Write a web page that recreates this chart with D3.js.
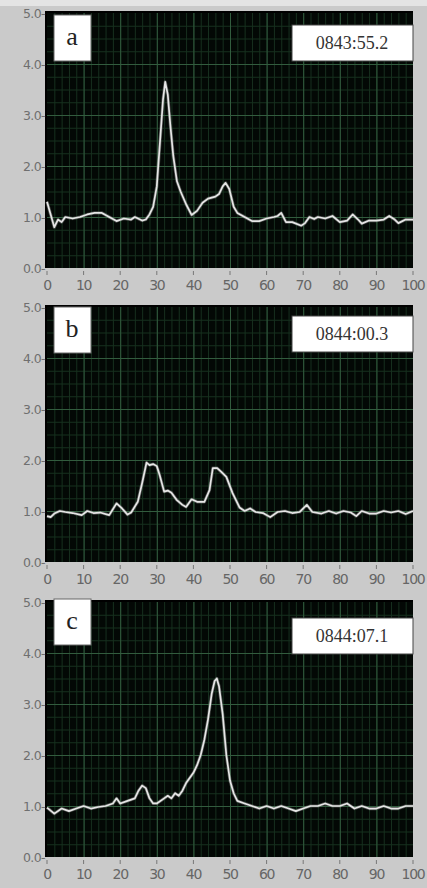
<!DOCTYPE html>
<html>
<head>
<meta charset="utf-8">
<script src="https://cdn.jsdelivr.net/npm/d3@7"></script>
<style>
  html, body { margin: 0; padding: 0; background: #cacaca; }
  svg { display: block; }
</style>
</head>
<body>
<svg id="chart" width="427" height="888"></svg>
<script>
const svg = d3.select("#chart");
const W = 427, H = 888;

// Panel labels and timestamps
const panelLetters = ["a", "b", "c"];
const timestamps = ["0843:55.2", "0844:00.3", "0844:07.1"];

// Axis ticks
const xTicks = [0, 10, 20, 30, 40, 50, 60, 70, 80, 90, 100];
const yTicks = [0, 1, 2, 3, 4, 5];

// Traces [x, value]
const traceA = [[0,1.3],[1,1.05],[2,0.8],[3,0.95],[4,0.9],[5,1.0],[7,0.97],[9,1.0],[11,1.05],[13,1.08],
  [15,1.08],[17,1.0],[19,0.92],[21,0.97],[23,0.95],[24,1.0],[26,0.93],[27,0.95],[28,1.05],[29,1.2],
  [30,1.6],[31,2.6],[31.7,3.3],[32.3,3.65],[33,3.4],[33.7,2.8],[34.5,2.2],[35.5,1.7],[36.5,1.5],[38,1.25],
  [39.5,1.04],[41,1.12],[42.5,1.28],[44,1.36],[46,1.4],[47,1.45],[48,1.6],[48.8,1.67],[49.8,1.55],[51,1.2],
  [52,1.08],[54,1.0],[56,0.92],[58,0.92],[60,0.97],[62,1.0],[63,1.02],[64,1.08],[65.3,0.9],[67,0.9],
  [69.5,0.83],[70.5,0.88],[71.7,1.0],[73,0.96],[74,1.0],[76,0.97],[78,1.02],[80,0.9],[82,0.93],[83.5,1.05],
  [85,0.95],[86,0.87],[88,0.93],[90,0.93],[92,0.95],[93.5,1.02],[95,0.95],[96,0.88],[98,0.95],[100,0.95]];

const traceB = [[0,0.9],[1,0.88],[2,0.95],[3.5,1.0],[5,0.98],[7,0.96],[9.5,0.92],[11,1.0],[12.7,0.96],[14.5,0.97],
  [17,0.92],[19,1.15],[20.5,1.05],[22,0.93],[23,0.97],[24.8,1.18],[26,1.55],[27.2,1.95],[28,1.9],[29,1.92],
  [30,1.88],[30.8,1.7],[32,1.38],[33,1.4],[34,1.36],[35.4,1.22],[37,1.12],[38,1.08],[39.5,1.23],[41,1.18],
  [43,1.18],[44.4,1.41],[45.3,1.84],[46.5,1.84],[47.7,1.76],[49,1.67],[50.7,1.35],[52.6,1.07],[54,1.0],[55.5,1.05],
  [57,0.98],[59,0.96],[61,0.88],[63,0.98],[65,1.0],[67,0.96],[69,0.98],[71,1.12],[72.5,0.98],[75,0.95],
  [77,1.0],[79,0.95],[81,1.0],[83,0.97],[84.5,0.9],[86,1.0],[88,0.95],[90,0.95],[92,1.0],[94,0.97],
  [96,1.0],[98,0.94],[100,1.0]];

const traceC = [[0,0.97],[2,0.85],[4,0.95],[6,0.9],[8,0.95],[10,1.0],[12,0.95],[14,0.98],[16,1.0],[18,1.05],
  [19,1.15],[20,1.05],[22,1.1],[24,1.15],[25,1.3],[26,1.4],[27,1.35],[28,1.15],[29,1.05],[30,1.05],
  [32,1.15],[33,1.2],[34,1.15],[35,1.25],[36,1.2],[37,1.3],[38,1.45],[40,1.65],[41,1.8],[42,2.0],
  [43,2.3],[44,2.7],[45,3.2],[45.8,3.45],[46.4,3.5],[47,3.35],[48,2.8],[49,2.0],[50,1.5],[51,1.25],
  [52,1.1],[54,1.05],[56,1.0],[58,0.95],[60,1.0],[62,0.95],[64,1.0],[66,0.95],[68,0.9],[70,0.95],
  [72,1.0],[74,1.0],[76,1.05],[78,1.0],[80,1.0],[82,1.05],[84,0.95],[86,1.0],[88,0.95],[90,0.95],
  [92,1.0],[94,0.95],[96,0.95],[98,1.0],[100,1.0]];

const traces = [traceA, traceB, traceC];

// Layout
const plotLeft = 47, plotRight = 413;
const plotTops = [13, 307, 602];
const plotH = 255;
const letterBoxes = [[54, 15], [54, 307], [54, 599]];
const stampBoxes = [[292, 25], [292, 316], [292, 618]];

// light strip along the top edge
svg.append("rect").attr("x", 0).attr("y", 0).attr("width", W).attr("height", 6).attr("fill", "#e4e4e4");

const x = d3.scaleLinear().domain([0, 100]).range([plotLeft, plotRight]);

traces.forEach((trace, i) => {
  const top = plotTops[i];
  const y = d3.scaleLinear().domain([0, 5]).range([top + plotH, top]);
  const g = svg.append("g");

  // plot background
  g.append("rect")
    .attr("x", plotLeft - 2).attr("y", top - 2)
    .attr("width", plotRight - plotLeft + 2).attr("height", plotH + 2)
    .attr("fill", "#000");
  g.append("rect")
    .attr("x", plotLeft).attr("y", top)
    .attr("width", plotRight - plotLeft).attr("height", plotH)
    .attr("fill", "#030805");

  // minor grid
  g.append("g")
    .attr("transform", `translate(0,${top + plotH})`)
    .call(d3.axisBottom(x).tickValues(d3.range(2, 100, 2)).tickSize(-plotH).tickFormat(""))
    .call(s => s.select(".domain").remove())
    .call(s => s.selectAll("line").attr("stroke", "#17301f").attr("stroke-width", 1));
  g.append("g")
    .attr("transform", `translate(${plotLeft},0)`)
    .call(d3.axisLeft(y).tickValues(d3.range(0.25, 5, 0.25)).tickSize(-(plotRight - plotLeft)).tickFormat(""))
    .call(s => s.select(".domain").remove())
    .call(s => s.selectAll("line").attr("stroke", "#17301f").attr("stroke-width", 1));

  // major grid
  g.append("g")
    .attr("transform", `translate(0,${top + plotH})`)
    .call(d3.axisBottom(x).tickValues(xTicks.slice(1, -1)).tickSize(-plotH).tickFormat(""))
    .call(s => s.select(".domain").remove())
    .call(s => s.selectAll("line").attr("stroke", "#325c3e").attr("stroke-width", 1));
  g.append("g")
    .attr("transform", `translate(${plotLeft},0)`)
    .call(d3.axisLeft(y).tickValues(yTicks.slice(1, -1)).tickSize(-(plotRight - plotLeft)).tickFormat(""))
    .call(s => s.select(".domain").remove())
    .call(s => s.selectAll("line").attr("stroke", "#325c3e").attr("stroke-width", 1));

  // trace
  const line = d3.line().x(d => x(d[0])).y(d => y(d[1])).curve(d3.curveLinear);
  g.append("path")
    .datum(trace)
    .attr("d", line)
    .attr("fill", "none")
    .attr("stroke", "#8a8a8a")
    .attr("stroke-width", 3.2)
    .attr("stroke-opacity", 0.5)
    .attr("stroke-linejoin", "round");
  g.append("path")
    .datum(trace)
    .attr("d", line)
    .attr("fill", "none")
    .attr("stroke", "#e6e6e6")
    .attr("stroke-width", 1.7)
    .attr("stroke-linejoin", "round");

  // y tick labels "5.0-"
  g.selectAll("text.ylab")
    .data(yTicks)
    .join("text")
    .attr("class", "ylab")
    .attr("x", plotLeft - 2)
    .attr("y", d => y(d) + 4.5)
    .attr("text-anchor", "end")
    .attr("font-family", "DejaVu Sans, sans-serif")
    .attr("font-size", 12.5)
    .attr("letter-spacing", -0.6)
    .attr("fill", "#6f6f6f")
    .text(d => d.toFixed(1) + "-");

  // x ticks and labels
  g.selectAll("line.xtick")
    .data(xTicks)
    .join("line")
    .attr("class", "xtick")
    .attr("x1", d => x(d)).attr("x2", d => x(d))
    .attr("y1", top + plotH + 3).attr("y2", top + plotH + 7)
    .attr("stroke", "#777");
  g.selectAll("text.xlab")
    .data(xTicks)
    .join("text")
    .attr("class", "xlab")
    .attr("x", d => x(d))
    .attr("y", top + plotH + 22)
    .attr("text-anchor", "middle")
    .attr("font-family", "DejaVu Sans, sans-serif")
    .attr("font-size", 14)
    .attr("letter-spacing", -1.3)
    .attr("fill", "#666")
    .text(d => d);

  // letter box
  const [lx, ly] = letterBoxes[i];
  g.append("rect")
    .attr("x", lx).attr("y", ly).attr("width", 37).attr("height", 46)
    .attr("fill", "#fff").attr("stroke", "#666").attr("stroke-width", 1);
  g.append("text")
    .attr("x", lx + 18).attr("y", ly + 30)
    .attr("text-anchor", "middle")
    .attr("font-family", "Liberation Serif, serif")
    .attr("font-size", 26)
    .attr("fill", "#222")
    .text(panelLetters[i]);

  // timestamp box
  const [sx, sy] = stampBoxes[i];
  g.append("rect")
    .attr("x", sx).attr("y", sy).attr("width", 121).attr("height", 36)
    .attr("fill", "#fff").attr("stroke", "#444").attr("stroke-width", 1);
  g.append("text")
    .attr("x", sx + 60).attr("y", sy + 24)
    .attr("text-anchor", "middle")
    .attr("font-family", "Liberation Serif, serif")
    .attr("font-size", 18)
    .attr("fill", "#333")
    .text(timestamps[i]);
});
</script>
</body>
</html>
